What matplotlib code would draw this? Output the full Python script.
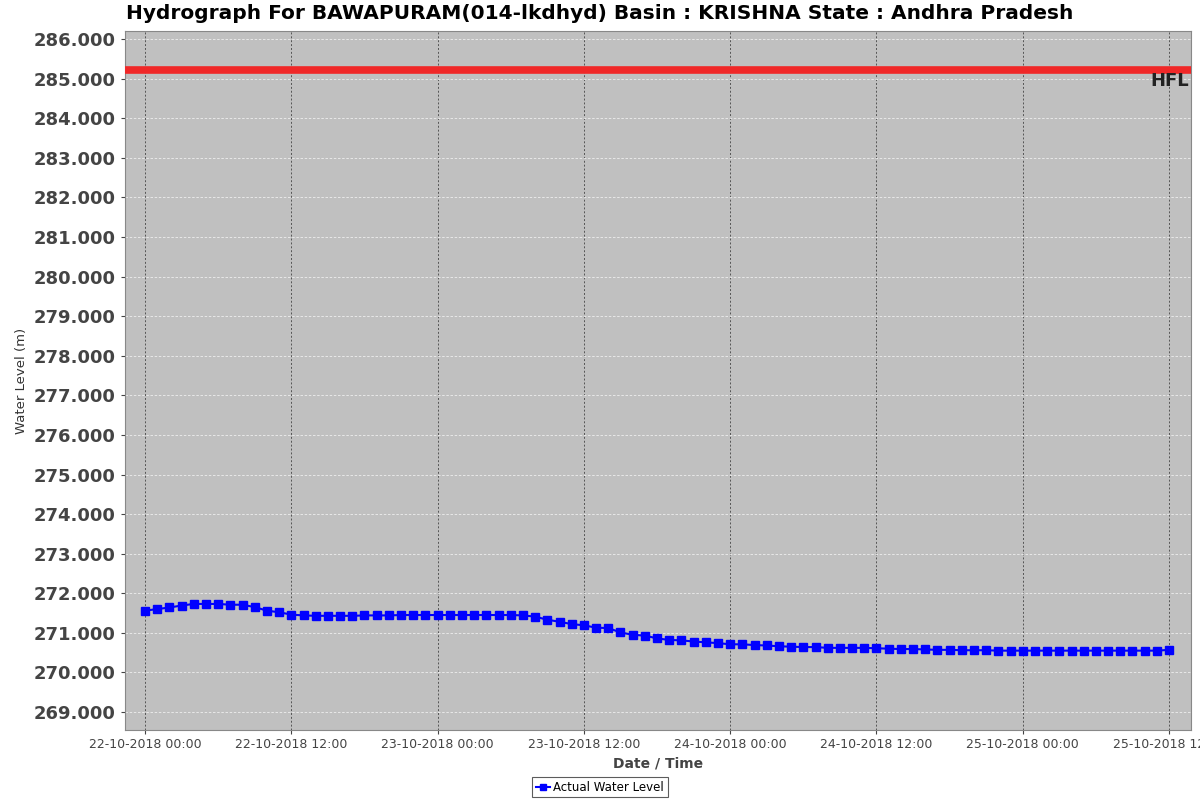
import matplotlib
matplotlib.use("Agg")
import matplotlib.pyplot as plt
import matplotlib.dates as mdates
import pandas as pd

# data: hourly water level readings (m)
start = "2018-10-22 00:00"
levels = [
    271.56, 271.60, 271.64, 271.69, 271.73, 271.73, 271.73, 271.71, 271.71, 271.65,
    271.56, 271.52, 271.46, 271.44, 271.43, 271.43, 271.43, 271.43, 271.44, 271.44,
    271.44, 271.45, 271.45, 271.45, 271.45, 271.45, 271.45, 271.45, 271.45, 271.45,
    271.45, 271.44, 271.41, 271.33, 271.28, 271.22, 271.19, 271.13, 271.12, 271.01,
    270.95, 270.93, 270.86, 270.82, 270.81, 270.78, 270.76, 270.74, 270.71, 270.71,
    270.69, 270.68, 270.66, 270.65, 270.64, 270.64, 270.62, 270.62, 270.62, 270.62,
    270.61, 270.60, 270.59, 270.59, 270.58, 270.57, 270.57, 270.56, 270.56, 270.56,
    270.55, 270.55, 270.55, 270.55, 270.55, 270.55, 270.55, 270.55, 270.55, 270.55,
    270.55, 270.55, 270.55, 270.55, 270.57,
]
hfl = 285.23
times = pd.date_range(start, periods=len(levels), freq="h")

title = "Hydrograph For BAWAPURAM(014-lkdhyd) Basin : KRISHNA State : Andhra Pradesh"

fig = plt.figure(figsize=(12, 8), dpi=100)
ax = fig.add_axes([0.1042, 0.0875, 0.8883, 0.8735])
ax.set_facecolor("#c0c0c0")

ax.axhline(hfl, color="#f02828", lw=5.5, zorder=3)
ax.text(0.998, hfl - 0.05, "HFL", transform=ax.get_yaxis_transform(), ha="right", va="top",
        fontsize=13, fontweight="bold", color="#222222", zorder=4)

ax.plot(times, levels, color="#0000ff", lw=1.5, marker="s", markersize=5.5,
        label="Actual Water Level", zorder=5)

t0 = times[0]
hr = pd.Timedelta(hours=1)
ax.set_xlim(t0 - 1.64 * hr, t0 + 85.8 * hr)
ax.set_ylim(268.545, 286.2)
ax.set_yticks(range(269, 287))
ax.yaxis.set_major_formatter(plt.FormatStrFormatter("%.3f"))
ax.xaxis.set_major_locator(mdates.HourLocator(byhour=[0, 12]))
ax.xaxis.set_major_formatter(mdates.DateFormatter("%d-%m-%Y %H:%M"))

ax.grid(axis="y", color="#eeeeee", ls=(0, (3, 2)), lw=0.6)
ax.grid(axis="x", color="#555555", ls=(0, (2, 2)), lw=0.7)
ax.set_axisbelow(True)

for lab in ax.get_yticklabels():
    lab.set_fontweight("bold")
ax.tick_params(axis="y", labelsize=13, colors="#444444", length=3, pad=4)
ax.tick_params(axis="x", labelsize=9, colors="#444444", length=3, pad=3)
for s in ax.spines.values():
    s.set_color("#888888")

ax.set_ylabel("Water Level (m)", fontsize=9.5, color="#333333", labelpad=4)
ax.set_xlabel("Date / Time", fontsize=10, fontweight="bold", color="#444444", labelpad=4)
fig.suptitle(title, x=0.5, y=0.995, fontsize=14.5, fontweight="bold", va="top")

leg = fig.legend(loc="lower center", bbox_to_anchor=(0.5, -0.004), fontsize=8.5, frameon=True,
                 fancybox=False, edgecolor="#333333", handlelength=1.2, markerscale=0.8,
                 borderpad=0.3, handletextpad=0.3)
leg.get_frame().set_linewidth(0.8)

fig.savefig("out.png", dpi=100)
